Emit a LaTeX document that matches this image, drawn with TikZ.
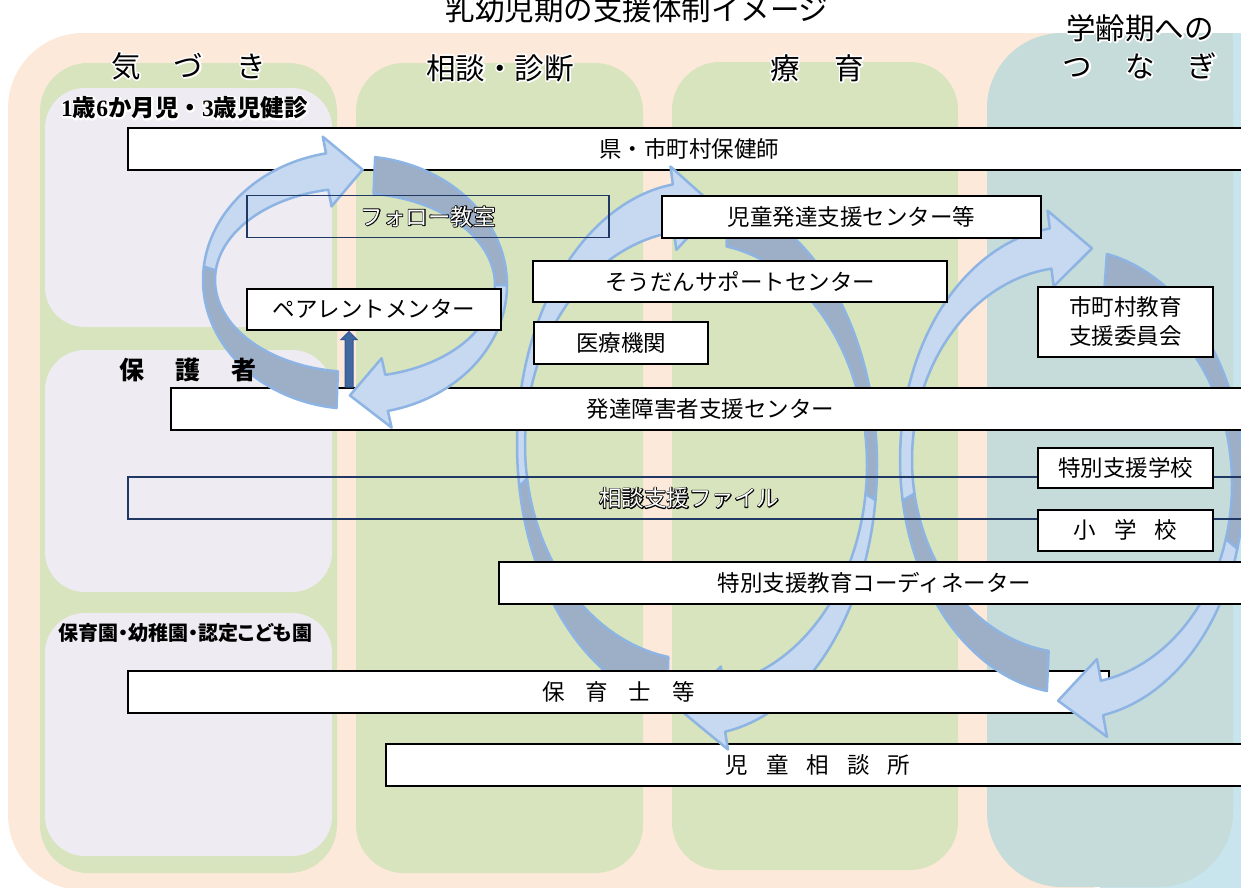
\documentclass[tikz,border=0pt]{standalone}
\usepackage{fontspec}
\setmainfont{Noto Sans CJK JP}
\newfontfamily\digitfont{Liberation Serif}
\usetikzlibrary{calc}
\definecolor{peach}{HTML}{FDE9DA}
\definecolor{colgreen}{HTML}{D7E4BD}
\definecolor{lav}{HTML}{EEEBF3}
\definecolor{tealc}{HTML}{C6DCDB}
\definecolor{skyc}{HTML}{C8E4EC}
\definecolor{ringlight}{HTML}{C6D9F1}
\definecolor{ringdark}{HTML}{9DAEC7}
\definecolor{ringline}{HTML}{8DB4E2}
\definecolor{navyline}{HTML}{203864}
\definecolor{upfill}{HTML}{41699F}
\definecolor{upline}{HTML}{2F5597}
% outlined text: a stroked copy underneath (text render mode 2), the plain text on top
\newcommand\outlined[5]{\rlap{\color{#2}\special{pdf:literal direct #3 1 j #1 w 2 Tr}#5\special{pdf:literal direct 0 Tr}}{\color{#4}#5}}
\newcommand\hollow[1]{\outlined{1.7}{black}{0 G}{white}{#1}}
\newcommand\glow[1]{\outlined{3.2}{white}{1 G}{black}{#1}}
\newcommand\boxfont{\fontsize{22.5}{29.5}\selectfont}
\newcommand\headfont{\fontsize{29.5}{34}\selectfont}
\newcommand\ringset[6]{\def\rcx{#1}\def\rcy{#2}\def\rxo{#3}\def\ryo{#4}\def\rxi{#5}\def\ryi{#6}}
\newcommand\ringarrow[5]{%
\filldraw[ringback] plot[smooth, domain=#1:#2, samples=25, variable=\t] ({\rcx+\rxo*cos(\t)},{\rcy+\ryo*sin(\t)})
 -- plot[smooth, domain=#2:#1, samples=25, variable=\t] ({\rcx+\rxi*cos(\t)},{\rcy+\ryi*sin(\t)}) -- cycle;
\filldraw[ringfront] plot[smooth, domain=#2:#3, samples=25, variable=\t] ({\rcx+\rxo*cos(\t)},{\rcy+\ryo*sin(\t)})
 -- ({\rcx+(\rxo+#4)*cos(#3)},{\rcy+(\ryo+#4)*sin(#3)})
 -- ({\rcx+(\rxo+\rxi)/2*cos(#3+#5)},{\rcy+(\ryo+\ryi)/2*sin(#3+#5)})
 -- ({\rcx+(\rxi-#4)*cos(#3)},{\rcy+(\ryi-#4)*sin(#3)})
 -- plot[smooth, domain=#3:#2, samples=25, variable=\t] ({\rcx+\rxi*cos(\t)},{\rcy+\ryi*sin(\t)}) -- cycle;}
\begin{document}
\begin{tikzpicture}[x=1pt,y=-1pt,
  box/.style={draw=black, line width=2pt, fill=white, inner sep=0pt, font=\boxfont},
  thinbox/.style={draw=navyline, line width=1.3pt, inner sep=0pt, font=\boxfont},
  ringfront/.style={fill=ringlight, draw=ringline, line width=2.5pt, line join=round},
  ringback/.style={fill=ringdark, draw=ringline, line width=2.5pt, line join=round},
  headtext/.style={font=\headfont, inner sep=0pt},
  labeltext/.style={anchor=west, inner sep=0pt},
  uparrowstyle/.style={fill=upfill, draw=upline, line width=1pt, line join=miter}]
\useasboundingbox (0,0) rectangle (1241,887);
\clip (0,0) rectangle (1241,887);
% backgrounds
\fill[peach, rounded corners=75] (8,33) rectangle (1150,890);
\fill[skyc] (1100,33) rectangle (1300,900);
\fill[tealc, rounded corners=75] (987,33) rectangle (1233,887);
\fill[tealc] (1150,33) rectangle (1233,120);
\fill[colgreen, rounded corners=48] (40,63) rectangle (337,873);
\fill[colgreen, rounded corners=48] (356,63) rectangle (643,873);
\fill[colgreen, rounded corners=48] (672,62) rectangle (958,870);
\fill[lav, rounded corners=40] (45,88) rectangle (332,327);
\fill[lav, rounded corners=40] (45,350) rectangle (332,592);
\fill[lav, rounded corners=40] (45,613) rectangle (332,856);
% lowest boxes
\node[box, minimum width=1122, minimum height=42] (ken) at (689,149) {県・市町村保健師};
\node[box, minimum width=864, minimum height=42] (jiso) at (818,765) {児\hspace{18pt}童\hspace{18pt}相\hspace{18pt}談\hspace{18pt}所};
% cycle 2
\ringset{697}{445}{180}{263}{172}{215}\ringarrow{99.6}{171}{262.3}{18}{14}
\ringset{697}{465}{180}{270}{170}{222}\ringarrow{280}{367.5}{441}{18}{14.6}
\node[box, minimum width=981, minimum height=42] (hoiku) at (618.5,692) {保\hspace{21pt}育\hspace{21pt}士\hspace{21pt}等};
% cycle 3
\ringset{1072}{460}{172}{233.5}{160}{193}\ringarrow{98.4}{170}{262.6}{18}{14.3}
\ringset{1072}{484}{172}{235}{160}{200}\ringarrow{281.7}{376}{439.6}{22}{15.2}
\node[thinbox, minimum width=1122, minimum height=42] (file) at (689,498) {\hollow{相談支援ファイル}};
% middle boxes
\node[box, minimum width=1079, minimum height=42] (hattatsu) at (710.5,409) {発達障害者支援センター};
\node[box, minimum width=414, minimum height=41] (soudan) at (740,281.5) {そうだんサポートセンター};
\node[box, minimum width=174, minimum height=42] (iryo) at (621,342.5) {医療機関};
\node[box, minimum width=379, minimum height=42] (jihatsu) at (851.5,216.5) {児童発達支援センター等};
\node[box, minimum width=175, minimum height=70, align=center] (kyoiku) at (1125.5,321.5) {市町村教育\\支援委員会};
\node[box, minimum width=175, minimum height=40] (tokushi) at (1125.5,467.5) {特別支援学校};
\node[box, minimum width=175, minimum height=41] (shogaku) at (1125.5,530) {小\hspace{18pt}学\hspace{18pt}校};
\node[box, minimum width=751, minimum height=42] (coord) at (874.5,583) {特別支援教育コーディネーター};
% cycle 1
\ringset{355}{280}{152}{129}{140}{92}\ringarrow{97}{186}{259}{17}{14}
\ringset{355}{285}{152}{129}{140}{92}\ringarrow{277.6}{360}{437.5}{17}{14.5}
\node[box, minimum width=254, minimum height=41] (parent) at (374,309) {ペアレントメンター};
\node[thinbox, minimum width=362, minimum height=42] (follow) at (428,216.5) {\hollow{フォロー教室}};
% small up arrow
\coordinate (ux) at (349,0);
\filldraw[uparrowstyle] ($(ux |- hattatsu.north)+(-4,0)$) -- ($(ux |- parent.south)+(-4,9)$)
  -- ($(ux |- parent.south)+(-8,9)$) -- ($(ux |- parent.south)+(0,1)$) -- ($(ux |- parent.south)+(8,9)$)
  -- ($(ux |- parent.south)+(4,9)$) -- ($(ux |- hattatsu.north)+(4,0)$) -- cycle;
% texts
\node[headtext] (title) at (637,9) {乳幼児期の支援体制イメージ};
\node[headtext] (h1) at (188.5,66) {\glow{気\hspace{33pt}づ\hspace{33pt}き}};
\node[headtext] (h2) at (500,68) {\glow{相談・診断}};
\node[headtext] (h3) at (817,68) {\glow{療\hspace{35pt}育}};
\node[headtext] (h4) at (1140,28) {\glow{学齢期への}};
\node[headtext] (h5) at (1140,66) {\glow{つ\hspace{33pt}な\hspace{33pt}ぎ}};
\node[labeltext, font={\fontsize{23.5}{28}\selectfont\bfseries}] (kenshin) at (61,108)
  {\glow{{\digitfont\bfseries 1}歳{\digitfont\bfseries 6}か月児・{\digitfont\bfseries 3}歳児健診}};
\node[labeltext, font={\fontsize{25}{30}\selectfont\bfseries}] (hogo) at (119,370) {保\hspace{31pt}護\hspace{31pt}者};
\node[labeltext, font={\fontsize{20}{24}\selectfont\bfseries\addfontfeatures{RawFeature=+palt}}] (hoikuen) at (58,633) {保育園・幼稚園・認定こども園};
\end{tikzpicture}
\end{document}
